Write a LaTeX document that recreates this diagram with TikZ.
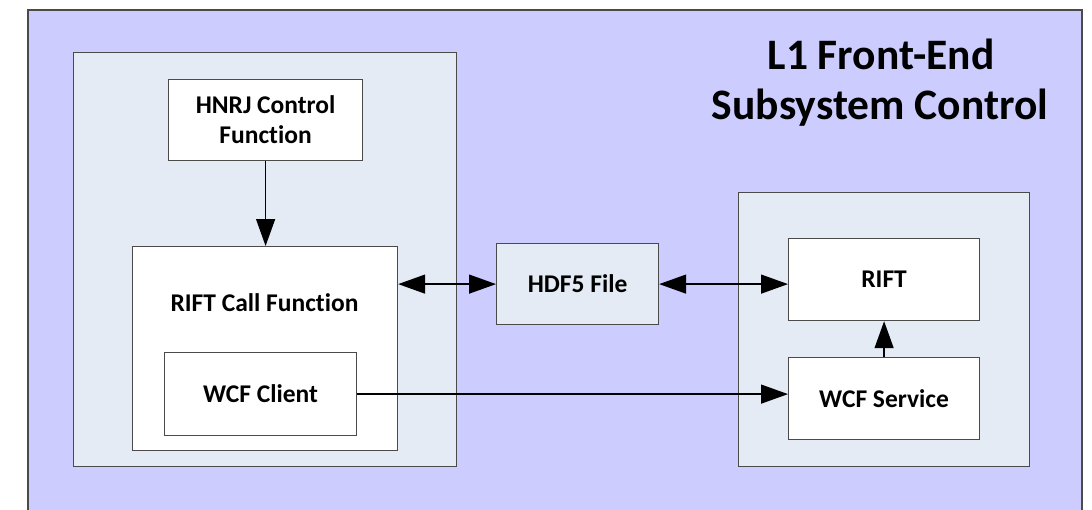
\documentclass[tikz,border=0pt]{standalone}
\usepackage{fontspec}
\setmainfont{Carlito}[Ligatures={NoCommon,NoDiscretionary,NoRare,NoContextual}]
\usetikzlibrary{arrows.meta}
\definecolor{outerfill}{HTML}{CCCCFF}
\definecolor{panelfill}{HTML}{E5EBF5}
\definecolor{edge}{HTML}{4A4A4A}
\tikzset{
  panel/.style={draw=edge, fill=panelfill, line width=1.2pt, anchor=north west, inner sep=0pt},
  whitebox/.style={draw=edge, fill=white, line width=1.2pt, anchor=north west, inner sep=0pt, align=center, font=\fontsize{25.5}{30}\selectfont\bfseries},
  lbl/.style={font=\fontsize{25.5}{30}\selectfont\bfseries, inner sep=0pt},
  ttl/.style={font=\fontsize{43.5}{50}\selectfont\bfseries, inner sep=0pt, anchor=base},
  arr/.style={line width=1.4pt, -{Triangle[length=27pt,width=19pt]}},
  darr/.style={line width=1.4pt, {Triangle[length=27pt,width=19pt]}-{Triangle[length=27pt,width=19pt]}}
}
\begin{document}
\begin{tikzpicture}[x=1pt,y=-1pt]
\useasboundingbox (0,0) rectangle (1092,509);
\clip (0,0) rectangle (1092,509);
\draw[draw=edge, fill=outerfill, line width=1.2pt] (28,10) rectangle (1082,530);
% left panel
\node[panel, minimum width=383pt, minimum height=414pt] (lp) at (73,52) {};
\node[whitebox, minimum width=194pt, minimum height=81pt] (hnrj) at (168,79) {HNRJ Control\\Function};
\node[whitebox, minimum width=265pt, minimum height=204pt] (rcf) at (132,246) {};
\node[lbl] (rcflbl) at (264.5,303) {RIFT Call Function};
\node[whitebox, minimum width=192pt, minimum height=83pt] (wcfc) at (164,352) {WCF Client};
% HDF5
\node[panel, minimum width=162pt, minimum height=81pt, font=\fontsize{25.5}{30}\selectfont\bfseries] (hdf) at (496,243) {HDF5 File};
% right panel
\node[panel, minimum width=291pt, minimum height=274pt] (rp) at (738,192) {};
\node[whitebox, minimum width=191pt, minimum height=82pt] (rift) at (788,238) {RIFT};
\node[whitebox, minimum width=191pt, minimum height=82pt] (wcfs) at (788,357) {WCF Service};
% title
\node[ttl] (t1) at (881,69) {L1 Front-End};
\node[ttl] (t2) at (880,119) {Subsystem Control};
% connectors
\draw[arr] (hnrj.south) -- (hnrj.south |- rcf.north);
\draw[darr] (hdf.west -| rcf.east) -- (hdf.west);
\draw[darr] (hdf.east) -- (hdf.east -| rift.west);
\draw[arr] (wcfc.east) -- (wcfc.east -| wcfs.west);
\draw[arr] (wcfs.north) -- (rift.south);
\end{tikzpicture}
\end{document}
